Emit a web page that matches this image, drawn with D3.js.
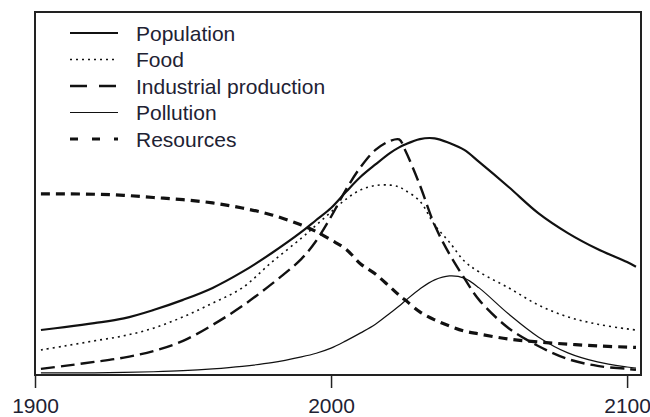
<!DOCTYPE html>
<html>
<head>
<meta charset="utf-8">
<script src="https://cdn.jsdelivr.net/npm/d3@7"></script>
<style>
  html, body { margin: 0; padding: 0; background: #fff; }
  svg { display: block; font-family: "Liberation Sans", Arial, sans-serif; }
</style>
</head>
<body>
<div id="chart"></div>
<script>
// sample years shared by every series
const years = [1902, 1910, 1920, 1930, 1940, 1950, 1960, 1970, 1980, 1990, 1995,
  2000, 2005, 2010, 2015, 2020, 2023, 2025, 2030, 2035, 2040, 2045, 2050,
  2060, 2070, 2080, 2090, 2100, 2103];

// relative levels (0 = bottom of the frame, 100 = top)
const population = [12.4, 13.2, 14.3, 15.6, 17.9, 20.7, 24.0, 28.4, 33.6, 39.4, 42.7,
  46.0, 50.4, 54.6, 58.0, 61.2, 62.7, 63.5, 65.0, 65.2, 63.9, 62.0, 58.7,
  51.8, 44.6, 39.1, 34.7, 31.1, 29.8];
const food = [6.9, 8.0, 9.4, 10.8, 12.9, 16.0, 19.8, 24.0, 31.1, 37.7, 41.3,
  44.9, 48.4, 51.0, 52.2, 52.3, 51.8, 50.9, 47.9, 41.3, 36.6, 31.4, 28.4,
  24.0, 19.3, 16.0, 14.0, 12.7, 12.4];
const industrial = [1.7, 2.5, 3.6, 4.8, 6.6, 9.4, 13.8, 19.0, 25.1, 32.0, 37.0,
  43.6, 51.0, 57.3, 62.0, 64.5, 64.9, 62.0, 52.3, 41.3, 33.3, 26.7, 20.7,
  12.9, 8.0, 4.4, 2.5, 1.7, 1.4];
const pollution = [0.6, 0.6, 0.6, 0.7, 0.9, 1.2, 1.7, 2.4, 3.4, 5.0, 6.0,
  7.4, 9.4, 11.6, 14.0, 17.1, 19.0, 20.4, 23.7, 26.2, 27.3, 26.7, 24.0,
  16.8, 10.5, 6.1, 3.6, 2.2, 1.9];
const resources = [49.9, 49.9, 49.8, 49.5, 48.9, 48.3, 47.4, 46.0, 44.1, 41.3, 39.5,
  37.2, 34.7, 30.6, 27.8, 24.2, 22.0, 20.7, 17.4, 15.2, 13.5, 12.1, 11.3,
  9.9, 9.1, 8.5, 8.0, 7.7, 7.6];

const seriesNames = ["Population", "Food", "Industrial production", "Pollution", "Resources"];
const tickYears = [1900, 2000, 2100];

const width = 650, height = 417;
const frame = { left: 35, right: 641, top: 12, bottom: 375 };

// line styles: plot dash, legend dash, width
const styles = [
  { dash: null, legendDash: null, w: 2.2 },
  { dash: "2,4", legendDash: "2,4", w: 1.6 },
  { dash: "14,6", legendDash: "17,12", w: 2.4 },
  { dash: null, legendDash: null, w: 1.2 },
  { dash: "9,6", legendDash: "8,14", w: 3.2 }
];
const seriesValues = [population, food, industrial, pollution, resources];

const x = d3.scaleLinear().domain([1900, 2104.7]).range([frame.left, frame.right]);
const y = d3.scaleLinear().domain([0, 100]).range([frame.bottom, frame.top]);

const svg = d3.select("#chart").append("svg")
  .attr("width", width)
  .attr("height", height);

const line = d3.line()
  .x((d) => x(d.year))
  .y((d) => y(d.value))
  .curve(d3.curveCatmullRom.alpha(0.5));

seriesValues.forEach((vals, i) => {
  const pts = years.map((yr, j) => ({ year: yr, value: vals[j] }));
  svg.append("path")
    .datum(pts)
    .attr("fill", "none")
    .attr("stroke", "#111")
    .attr("stroke-width", styles[i].w)
    .attr("stroke-dasharray", styles[i].dash)
    .attr("d", line);
});

// frame
svg.append("rect")
  .attr("x", frame.left)
  .attr("y", frame.top)
  .attr("width", frame.right - frame.left)
  .attr("height", frame.bottom - frame.top)
  .attr("fill", "none")
  .attr("stroke", "#222")
  .attr("stroke-width", 2);

// x axis, ticks only
const xAxis = d3.axisBottom(x)
  .tickValues(tickYears)
  .tickFormat(d3.format("d"))
  .tickSize(13)
  .tickPadding(10);

const ax = svg.append("g")
  .attr("transform", `translate(0,${frame.bottom})`)
  .call(xAxis);
ax.select(".domain").remove();
ax.selectAll("line").attr("stroke", "#222").attr("stroke-width", 1.5);
ax.selectAll("text")
  .attr("fill", "#1e2233")
  .style("font-size", "21px")
  .style("font-family", "'Liberation Sans', Arial, sans-serif");

// legend
const legend = svg.append("g").attr("transform", "translate(70,33)");
seriesNames.forEach((name, i) => {
  const row = legend.append("g").attr("transform", `translate(0,${i * 26.5})`);
  row.append("line")
    .attr("x1", 0).attr("x2", 48)
    .attr("y1", 0).attr("y2", 0)
    .attr("stroke", "#111")
    .attr("stroke-width", styles[i].w)
    .attr("stroke-dasharray", styles[i].legendDash);
  row.append("text")
    .attr("x", 66)
    .attr("dy", "0.36em")
    .attr("fill", "#1e2233")
    .style("font-size", "21px")
    .text(name);
});
</script>
</body>
</html>
